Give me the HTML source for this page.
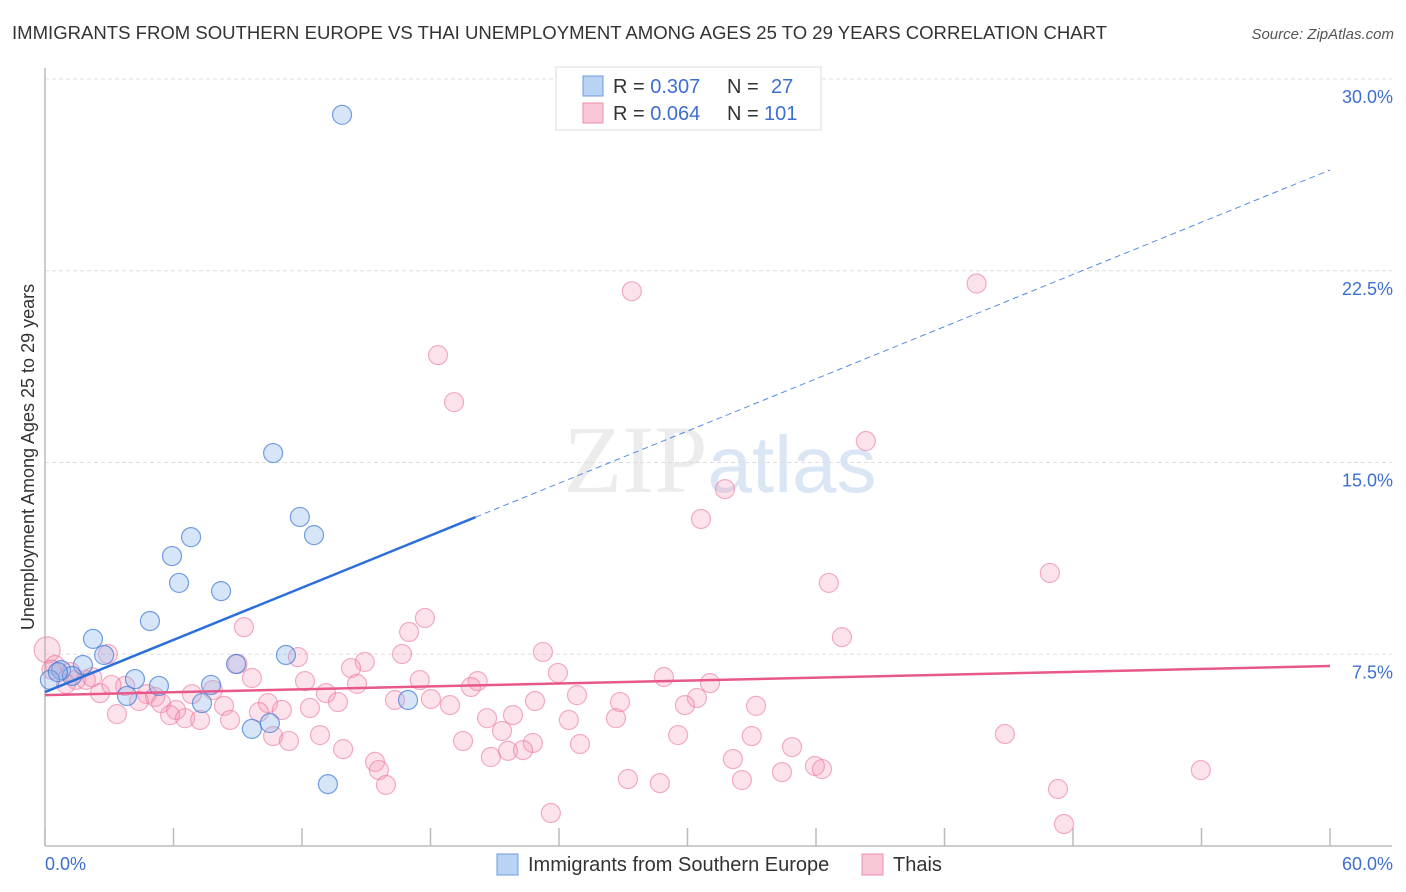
<!DOCTYPE html>
<html><head><meta charset="utf-8"><style>
body{margin:0;background:#fff;width:1406px;height:892px;overflow:hidden;font-family:"Liberation Sans",sans-serif}
svg{position:absolute;left:0;top:0}
</style></head><body>
<svg id="c" width="1406" height="892" xmlns="http://www.w3.org/2000/svg">
<text x="12" y="39" font-size="18" fill="#333" textLength="1095" lengthAdjust="spacingAndGlyphs">IMMIGRANTS FROM SOUTHERN EUROPE VS THAI UNEMPLOYMENT AMONG AGES 25 TO 29 YEARS CORRELATION CHART</text>
<text x="1394" y="39" font-size="15" fill="#555" font-style="italic" text-anchor="end">Source: ZipAtlas.com</text>
<text x="720" y="492" font-size="96" fill="#ececec" text-anchor="middle" font-family="Liberation Serif,serif">ZIP<tspan fill="#dbe6f5" font-family="Liberation Sans,sans-serif" font-size="80">atlas</tspan></text>
<g id="grid"></g><g id="axes"></g><g id="pts"></g><g id="lines"></g>
<text transform="translate(34,457) rotate(-90)" font-size="18" fill="#333" text-anchor="middle">Unemployment Among Ages 25 to 29 years</text>
<text x="45" y="870" font-size="18" fill="#3d6fd1">0.0%</text>
<text x="1393" y="870" font-size="18" fill="#3d6fd1" text-anchor="end">60.0%</text>
<g>
<rect x="556" y="67" width="265" height="63" fill="#fff" stroke="#ddd"/>
<rect x="583" y="76" width="20" height="20" fill="#b9d3f5" stroke="#6d9be0"/>
<rect x="583" y="103" width="20" height="20" fill="#f9c6d6" stroke="#ee8fae"/>
<text x="613" y="93" font-size="20" fill="#333">R = <tspan fill="#3d6fd1">0.307</tspan><tspan x="727">N = </tspan><tspan x="771" fill="#3d6fd1">27</tspan></text>
<text x="613" y="120" font-size="20" fill="#333">R = <tspan fill="#3d6fd1">0.064</tspan><tspan x="727">N = </tspan><tspan x="764" fill="#3d6fd1">101</tspan></text>
</g>
<g>
<rect x="497" y="854" width="21" height="21" fill="#b9d3f5" stroke="#6d9be0"/>
<text x="528" y="871" font-size="20" fill="#333">Immigrants from Southern Europe</text>
<rect x="862" y="854" width="21" height="21" fill="#f9c6d6" stroke="#ee8fae"/>
<text x="893" y="871" font-size="20" fill="#333">Thais</text>
</g>
</svg>
<script>
const yTicks=[7.5,15,22.5,30];
const yTickLabels=["7.5%","15.0%","22.5%","30.0%"];
const xTicks=[0,6,12,18,24,30,36,42,48,54,60];
const blueX=[13.87,10.65,11.9,12.56,6.82,5.93,6.26,8.22,4.90,2.24,2.76,8.92,1.77,0.75,4.20,1.26,5.32,7.75,11.25,3.83,7.33,16.95,10.5,9.66,13.21,0.23,0.6];
const blueY=[28.6,15.37,12.87,12.16,12.08,11.34,10.29,9.97,8.80,8.10,7.47,7.12,7.08,6.88,6.53,6.65,6.26,6.30,7.47,5.87,5.59,5.71,4.81,4.58,2.42,6.5,6.8];
const pinkX=[27.4,43.5,18.35,19.1,38.33,31.75,30.63,46.92,36.6,17.74,17.0,9.29,37.21,2.94,23.25,16.67,8.99,14.93,14.29,23.95,11.81,28.9,17.5,20.2,9.66,12.14,14.57,31.05,19.89,3.74,1.45,1.91,0.98,2.57,4.76,5.14,6.86,7.84,10.41,13.12,16.34,18.02,24.84,26.85,30.44,29.88,33.2,5.42,4.39,8.36,13.68,18.91,22.88,11.06,12.37,6.12,3.36,5.84,6.54,7.24,8.64,9.99,20.64,21.85,24.46,26.66,21.34,12.84,10.65,11.39,29.56,33.0,19.52,22.78,24.98,13.92,21.62,22.32,20.82,34.88,44.82,32.12,15.41,15.59,35.95,36.28,34.41,53.97,27.22,28.71,32.54,15.92,23.62,47.3,47.58,0.1,0.47,0.3,1.2,2.2,3.1];
const pinkY=[21.7,22.0,19.2,17.36,15.84,13.96,12.79,10.68,10.29,8.92,8.37,8.56,8.17,7.51,7.59,7.51,7.12,7.2,6.96,6.77,7.39,6.61,6.49,6.45,6.57,6.45,6.34,6.37,6.22,6.26,6.5,6.5,6.34,5.98,5.94,5.83,5.94,6.1,5.59,5.98,5.71,5.75,5.9,5.63,5.79,5.51,5.48,5.59,5.67,5.48,5.63,5.51,5.67,5.32,5.4,5.32,5.16,5.12,5.0,4.93,4.93,5.24,5.0,5.12,4.93,5.0,4.5,4.34,4.3,4.11,4.34,4.3,4.11,4.03,3.99,3.79,3.72,3.75,3.48,3.87,4.38,3.4,3.29,2.97,3.13,3.01,2.89,2.97,2.62,2.46,2.58,2.39,1.29,2.23,0.86,7.67,7.08,6.9,6.8,6.6,6.3];
const blueTrend=[6.02,26.44];   // y at x=0 and x=60
const blueSolidEnd=[20.1];      // x where solid ends
const pinkTrend=[5.9,7.04];
const NS="http://www.w3.org/2000/svg";
const X=v=>45+v/60*1285, Y=v=>846-v/30*767;
function mk(t,a,p){const e=document.createElementNS(NS,t);for(const k in a)e.setAttribute(k,a[k]);p.appendChild(e);return e;}
const grid=document.getElementById('grid'),axes=document.getElementById('axes'),pts=document.getElementById('pts'),lines=document.getElementById('lines');
yTicks.forEach((t,i)=>{
 const l=mk('line',{x1:45,x2:1392,y1:Y(t),y2:Y(t),stroke:'#ddd','stroke-dasharray':'4,3'},grid);
 
 
 const tx=mk('text',{x:1393,y:Y(t)+24,'font-size':18,fill:'#3d6fd1','text-anchor':'end'},grid);
 tx.textContent=yTickLabels[i];
 
 
});
const ya=mk('line',{x1:45,x2:45,y1:68,y2:846,stroke:'#bbb','stroke-width':1.5},axes);


const xa=mk('line',{x1:45,x2:1392,y1:846,y2:846,stroke:'#bbb','stroke-width':1.5},axes);


xTicks.forEach(t=>{
 const l=mk('line',{x1:X(t),x2:X(t),y1:828,y2:846,stroke:'#bbb','stroke-width':1.5},axes);
 
 
});
pinkX.forEach((x,i)=>{
 const c=mk('circle',{cx:X(x),cy:Y(pinkY[i]),r:(i===pinkX.length-6?13:9.5),fill:'rgba(244,143,177,0.25)',stroke:'rgba(236,120,160,0.6)','stroke-width':1.2},pts);
 
 
});
blueX.forEach((x,i)=>{
 const c=mk('circle',{cx:X(x),cy:Y(blueY[i]),r:9.5,fill:'rgba(140,180,235,0.35)',stroke:'rgba(60,120,215,0.7)','stroke-width':1.2},pts);
 
 
});
const by=x=>blueTrend[0]+(blueTrend[1]-blueTrend[0])*x/60;
const b1=mk('line',{x1:X(0),y1:Y(by(0)),x2:X(blueSolidEnd[0]),y2:Y(by(blueSolidEnd[0])),stroke:'#2a6fdb','stroke-width':2.5},lines);


const b2=mk('line',{x1:X(blueSolidEnd[0]),y1:Y(by(blueSolidEnd[0])),x2:X(60),y2:Y(by(60)),stroke:'#2a6fdb','stroke-width':1,'stroke-dasharray':'6,4',opacity:0.8},lines);


const p1=mk('line',{x1:X(0),y1:Y(pinkTrend[0]),x2:X(60),y2:Y(pinkTrend[1]),stroke:'#e8588a','stroke-width':2.5},lines);


</script>
</body></html>
